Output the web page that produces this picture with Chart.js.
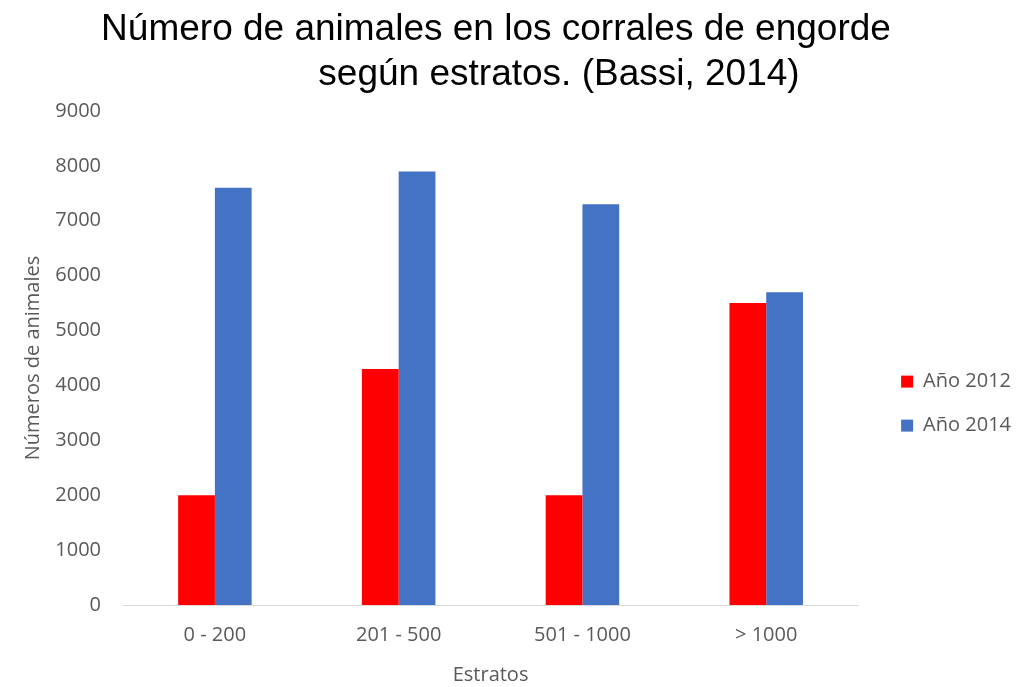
<!DOCTYPE html>
<html>
<head>
<meta charset="utf-8">
<script src="https://cdn.jsdelivr.net/npm/chart.js@4.4.0/dist/chart.umd.min.js"></script>
<style>
html,body{margin:0;padding:0;background:#fff;}
#wrap{width:1021px;height:687px;position:relative;}
</style>
</head>
<body>
<div id="wrap"><canvas id="c"></canvas></div>
<script>
const categories = ["0 - 200", "201 - 500", "501 - 1000", "> 1000"];
const values2012 = [2000, 4300, 2000, 5500];
const values2014 = [7600, 7900, 7300, 5700];
const seriesNames = ["Año 2012", "Año 2014"];
const titleLines = ["Número de animales en los corrales de engorde", "según estratos. (Bassi, 2014)"];
const yTitle = "Números de animales";
const xTitle = "Estratos";

const titlePlugin = {
  id: 'twoLineTitle',
  afterDraw(chart) {
    const ctx = chart.ctx;
    ctx.save();
    ctx.fillStyle = '#000';
    ctx.font = '37px "Liberation Sans", Arial, sans-serif';
    ctx.textBaseline = 'alphabetic';
    ctx.textAlign = 'center';
    ctx.fillText(titleLines[0], 496, 40);
    ctx.fillText(titleLines[1], 559, 85);
    ctx.restore();
  }
};

const tickFont = {family: '"Open Sans", sans-serif', size: 20};
const grey = '#595959';

new Chart(document.getElementById('c'), {
  type: 'bar',
  data: {
    labels: categories,
    datasets: [
      {label: seriesNames[0], data: values2012, backgroundColor: '#ff0000', borderWidth: 0},
      {label: seriesNames[1], data: values2014, backgroundColor: '#4472c4', borderWidth: 0}
    ]
  },
  options: {
    responsive: true,
    maintainAspectRatio: false,
    animation: false,
    layout: {padding: {top: 111, left: 20, right: 0, bottom: 0}},
    datasets: {bar: {categoryPercentage: 0.4, barPercentage: 1.0}},
    plugins: {
      title: {display: false},
      tooltip: {enabled: false},
      legend: {
        position: 'right',
        title: {display: true, text: '', font: {size: 1}, padding: {top: 4, bottom: 4}},
        labels: {
          font: tickFont,
          color: grey,
          boxWidth: 12, boxHeight: 12, padding: 24
        }
      }
    },
    scales: {
      x: {
        grid: {display: false, drawTicks: false},
        border: {display: true, color: '#d9d9d9', width: 1},
        ticks: {font: tickFont, color: grey, padding: 18},
        title: {display: true, text: xTitle, font: tickFont, color: grey, padding: {top: 16, bottom: 0}},
        afterFit(scale) { scale.height = 82; }
      },
      y: {
        min: 0, max: 9000,
        grid: {display: false, drawTicks: false},
        border: {display: false},
        ticks: {stepSize: 1000, font: tickFont, color: grey, padding: 22,
          callback: (v) => String(v)},
        title: {display: true, text: yTitle, font: tickFont, color: grey, padding: {top: 1, bottom: 0}},
        afterFit(scale) { scale.width = 103; }
      },
      ySpacer: {
        position: 'right',
        display: true,
        grid: {display: false, drawTicks: false},
        border: {display: false},
        ticks: {display: false},
        afterFit(scale) { scale.width = 19; }
      }
    }
  },
  plugins: [titlePlugin]
});
</script>
</body>
</html>
